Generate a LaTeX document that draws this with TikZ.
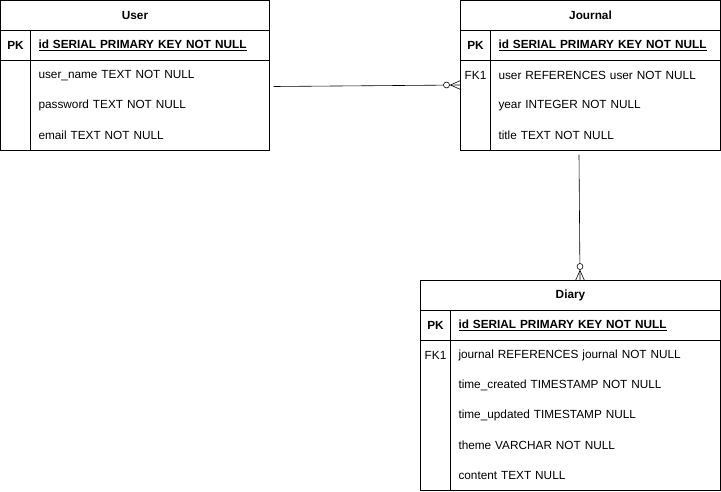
\documentclass[tikz,border=0pt]{standalone}
\usepackage{fontspec}
\setmainfont{Liberation Sans}
\usetikzlibrary{positioning, calc}

\begin{document}
\begin{tikzpicture}[
        x=1pt, y=1pt,
        node distance=0pt,
        every node/.style={font=\fontsize{11.8}{14}\selectfont, outer sep=0pt},
        tabtitle/.style={rectangle, draw, minimum height=30pt, inner sep=0pt, font=\fontsize{11.8}{14}\selectfont\bfseries},
        keycell/.style={rectangle, minimum width=30pt, minimum height=30pt, inner sep=0pt},
        pkkey/.style={keycell, draw, font=\fontsize{11.8}{14}\selectfont\bfseries},
        fieldcell/.style={rectangle, minimum height=30pt, inner xsep=8pt, inner ysep=0pt, text width=#1, align=left},
        pkfield/.style={fieldcell=#1, draw, font=\fontsize{11.8}{14}\selectfont\bfseries},
        rel/.style={draw, line width=0.6pt},
    ]

    \useasboundingbox (0,0) rectangle (721,-491);

    % Tabla User
    \node[tabtitle, minimum width=269pt, anchor=north west] (user) at (0.5,-0.5) {User};
    \node[pkkey, below=of user.south west, anchor=north west] (userpk) {PK};
    \node[pkfield=223pt, right=of userpk] (userid) {\underline{id SERIAL PRIMARY KEY NOT NULL}};
    \node[keycell, below=of userpk] (userk1) {};
    \node[fieldcell=223pt, right=of userk1] (userf1) {user\_name TEXT NOT NULL};
    \node[keycell, below=of userk1] (userk2) {};
    \node[fieldcell=223pt, right=of userk2] (userf2) {password TEXT NOT NULL};
    \node[keycell, below=of userk2] (userk3) {};
    \node[fieldcell=223pt, right=of userk3] (userf3) {email TEXT NOT NULL};
    \draw (userk1.north west) rectangle (userf3.south east);
    \draw (userk1.north east) -- (userk3.south east);

    % Tabla Journal
    \node[tabtitle, minimum width=260pt, anchor=north west] (journal) at (460.5,-0.5) {Journal};
    \node[pkkey, below=of journal.south west, anchor=north west] (journalpk) {PK};
    \node[pkfield=214pt, right=of journalpk] (journalid) {\underline{id SERIAL PRIMARY KEY NOT NULL}};
    \node[keycell, below=of journalpk] (journalk1) {FK1};
    \node[fieldcell=214pt, right=of journalk1] (journalf1) {user REFERENCES user NOT NULL};
    \node[keycell, below=of journalk1] (journalk2) {};
    \node[fieldcell=214pt, right=of journalk2] (journalf2) {year INTEGER NOT NULL};
    \node[keycell, below=of journalk2] (journalk3) {};
    \node[fieldcell=214pt, right=of journalk3] (journalf3) {title TEXT NOT NULL};
    \draw (journalk1.north west) rectangle (journalf3.south east);
    \draw (journalk1.north east) -- (journalk3.south east);

    % Tabla Diary
    \node[tabtitle, minimum width=300pt, anchor=north west] (diary) at (420.5,-280.5) {Diary};
    \node[pkkey, below=of diary.south west, anchor=north west] (diarypk) {PK};
    \node[pkfield=254pt, right=of diarypk] (diaryid) {\underline{id SERIAL PRIMARY KEY NOT NULL}};
    \node[keycell, below=of diarypk] (diaryk1) {FK1};
    \node[fieldcell=254pt, right=of diaryk1] (diaryf1) {journal REFERENCES journal NOT NULL};
    \node[keycell, below=of diaryk1] (diaryk2) {};
    \node[fieldcell=254pt, right=of diaryk2] (diaryf2) {time\_created TIMESTAMP NOT NULL};
    \node[keycell, below=of diaryk2] (diaryk3) {};
    \node[fieldcell=254pt, right=of diaryk3] (diaryf3) {time\_updated TIMESTAMP NULL};
    \node[keycell, below=of diaryk3] (diaryk4) {};
    \node[fieldcell=254pt, right=of diaryk4] (diaryf4) {theme VARCHAR NOT NULL};
    \node[keycell, below=of diaryk4] (diaryk5) {};
    \node[fieldcell=254pt, right=of diaryk5] (diaryf5) {content TEXT NULL};
    \draw (diaryk1.north west) rectangle (diaryf5.south east);
    \draw (diaryk1.north east) -- (diaryk5.south east);

    % Relaciones (cero o muchos)
    \coordinate (ujstart) at ([xshift=4pt, yshift=-11pt]userf1.east);
    \coordinate (ujend) at ([yshift=-9.5pt]journalk1.west);
    \draw[rel] (ujstart) -- (ujend);
    \draw[rel] ([xshift=-10pt]ujend) -- ([yshift=4.5pt]ujend) ([xshift=-10pt]ujend) -- ([yshift=-4.5pt]ujend);
    \draw[rel, fill=white] ([xshift=-14pt]ujend) circle (3pt);

    \coordinate (jdstart) at ($(journal.south |- journalf3.south)+(-11.5,-4)$);
    \coordinate (jdend) at ($(diary.north)+(9.5,0)$);
    \draw[rel] (jdstart) -- (jdend);
    \draw[rel] ([yshift=10pt]jdend) -- ([xshift=-4.5pt]jdend) ([yshift=10pt]jdend) -- ([xshift=4.5pt]jdend);
    \draw[rel, fill=white] ([yshift=14pt]jdend) circle (3pt);

\end{tikzpicture}
\end{document}
